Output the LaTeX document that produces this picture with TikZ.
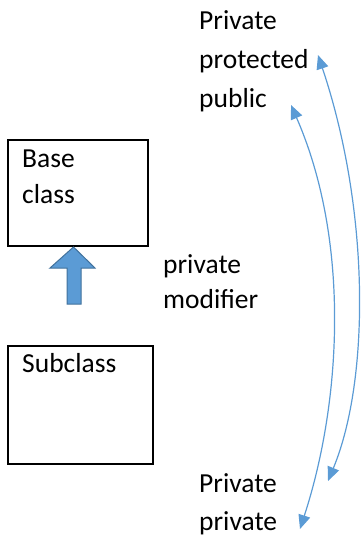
\documentclass[tikz,border=0pt]{standalone}
\usepackage{fontspec}
\setmainfont{Carlito}
\usetikzlibrary{arrows.meta}
\definecolor{accent}{HTML}{5B9BD5}
\definecolor{accentdark}{HTML}{41719C}
\tikzset{
  classbox/.style={draw=black, line width=2pt, inner sep=0pt, anchor=north west},
  label text/.style={anchor=base west, inner sep=0pt, font=\fontsize{27.5}{39}\selectfont},
  swap arrow/.style={draw=accent, line width=1.2pt,
    {Triangle[length=14pt,width=12pt]}-{Triangle[length=14pt,width=12pt]}},
}
\begin{document}
\begin{tikzpicture}[x=1pt,y=-1pt]
\useasboundingbox (0,0) rectangle (361,541);

% access levels, top
\node[label text] (tPriv) at (199,29) {Private};
\node[label text] (tProt) at (199,68) {protected};
\node[label text] (tPub)  at (199,107) {public};

% base class
\node[classbox, minimum width=140pt, minimum height=106pt] (base) at (7,139) {};
\node[label text] (baseA) at (22,167) {Base};
\node[label text] (baseB) at (22,203) {class};

% inheritance modifier
\node[label text] (modA) at (163,273) {private};
\node[label text] (modB) at (163,308) {modifier};

% subclass
\node[classbox, minimum width=145pt, minimum height=118pt] (sub) at (7,345) {};
\node[label text] (subT) at (22,372) {Subclass};

% access levels, bottom
\node[label text] (bPriv) at (199,492) {Private};
\node[label text] (bPrv)  at (199,530) {private};

% block arrow pointing up to the base class
\draw[fill=accent, draw=accentdark, line width=1pt, line join=miter]
  (73.5,247) -- (95,268) -- (81,268) -- (81,304) -- (67,304) -- (67,268) -- (50,268) -- cycle;

% curved mapping arrows
\coordinate (oTop) at (318,55);
\coordinate (oBot) at (328,481);
\coordinate (iTop) at (291,105);
\coordinate (iBot) at (300,529);
\draw[swap arrow] (oTop) .. controls (370,210) and (370,380) .. (oBot);
\draw[swap arrow] (iTop) .. controls (350,240) and (342,400) .. (iBot);
\end{tikzpicture}
\end{document}
